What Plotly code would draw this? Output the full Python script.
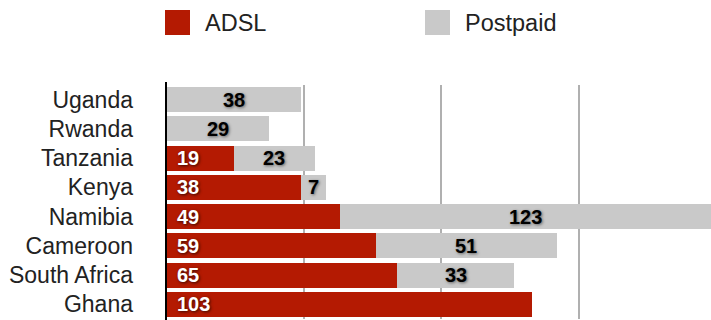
import plotly.graph_objects as go

countries = ["Uganda", "Rwanda", "Tanzania", "Kenya", "Namibia", "Cameroon", "South Africa", "Ghana"]
adsl = [None, None, 19, 38, 49, 59, 65, 103]
postpaid = [38, 29, 23, 7, 123, 51, 33, None]
series_names = ["ADSL", "Postpaid"]
colors = ["#B41A02", "#C9C9C9"]

W, H = 711, 320
L, R, T, B = 166, 0, 85, 1
pw, ph = W - L - R, H - T - B
XMAX = 153.3

def px_x(p):
    return (p - L) / pw

def px_y(q):
    return (H - B - q) / ph

fig = go.Figure()
for name, vals, col in zip(series_names, [adsl, postpaid], colors):
    fig.add_trace(go.Bar(
        y=countries, x=vals, orientation="h", name=name,
        marker=dict(color=col, line=dict(width=0)),
        hoverinfo="x+y+name",
    ))

shapes = []
annotations = []

label_font = dict(family="Liberation Sans", size=20, weight="bold")
# value labels
for c, a, p in zip(countries, adsl, postpaid):
    start = a or 0
    if a:
        annotations.append(dict(x=0, y=c, xref="x", yref="y", text=str(a), showarrow=False,
                                xanchor="left", yanchor="middle", xshift=9,
                                font=dict(**label_font, color="white",
                                          shadow="1px 1px 3px rgba(0,0,0,0.7)")))
    if p:
        end = min(start + p, XMAX)
        annotations.append(dict(x=(start + end) / 2, y=c, xref="x", yref="y", text=str(p),
                                showarrow=False, xanchor="center", yanchor="middle",
                                font=dict(**label_font, color="black",
                                          shadow="1px 1px 3px rgba(0,0,0,0.5)")))

# legend drawn manually
for i, (name, col) in enumerate(zip(series_names, colors)):
    x0 = 165 + i * 260
    shapes.append(dict(type="rect", xref="paper", yref="paper",
                       x0=px_x(x0), x1=px_x(x0 + 25), y0=px_y(35), y1=px_y(10),
                       fillcolor=col, line=dict(width=0)))
    annotations.append(dict(xref="paper", yref="paper", x=px_x(x0 + 38), y=px_y(22.5),
                            xanchor="left", yanchor="middle", showarrow=False,
                            text=name, font=dict(family="Liberation Sans", size=23.5, color="#222")))

# y axis line
shapes.append(dict(type="line", xref="paper", yref="paper", x0=0, x1=0,
                   y0=px_y(320), y1=px_y(82), line=dict(color="black", width=2)))

fig.update_layout(
    width=W, height=H,
    margin=dict(l=L, r=R, t=T, b=B, pad=0),
    barmode="stack", bargap=0.15,
    plot_bgcolor="white", paper_bgcolor="white",
    showlegend=False,
    shapes=shapes, annotations=annotations,
    xaxis=dict(range=[0, XMAX], tickvals=[38.7, 77.4, 116.1], showticklabels=False,
               showgrid=True, gridcolor="#B0B0B0", gridwidth=2, zeroline=False,
               showline=False, fixedrange=True),
    yaxis=dict(autorange="reversed", showgrid=False, zeroline=False, showline=False,
               ticks="", ticklabelstandoff=32,
               tickfont=dict(family="Liberation Sans", size=23, color="#222")),
)

fig.write_html("out.html")
